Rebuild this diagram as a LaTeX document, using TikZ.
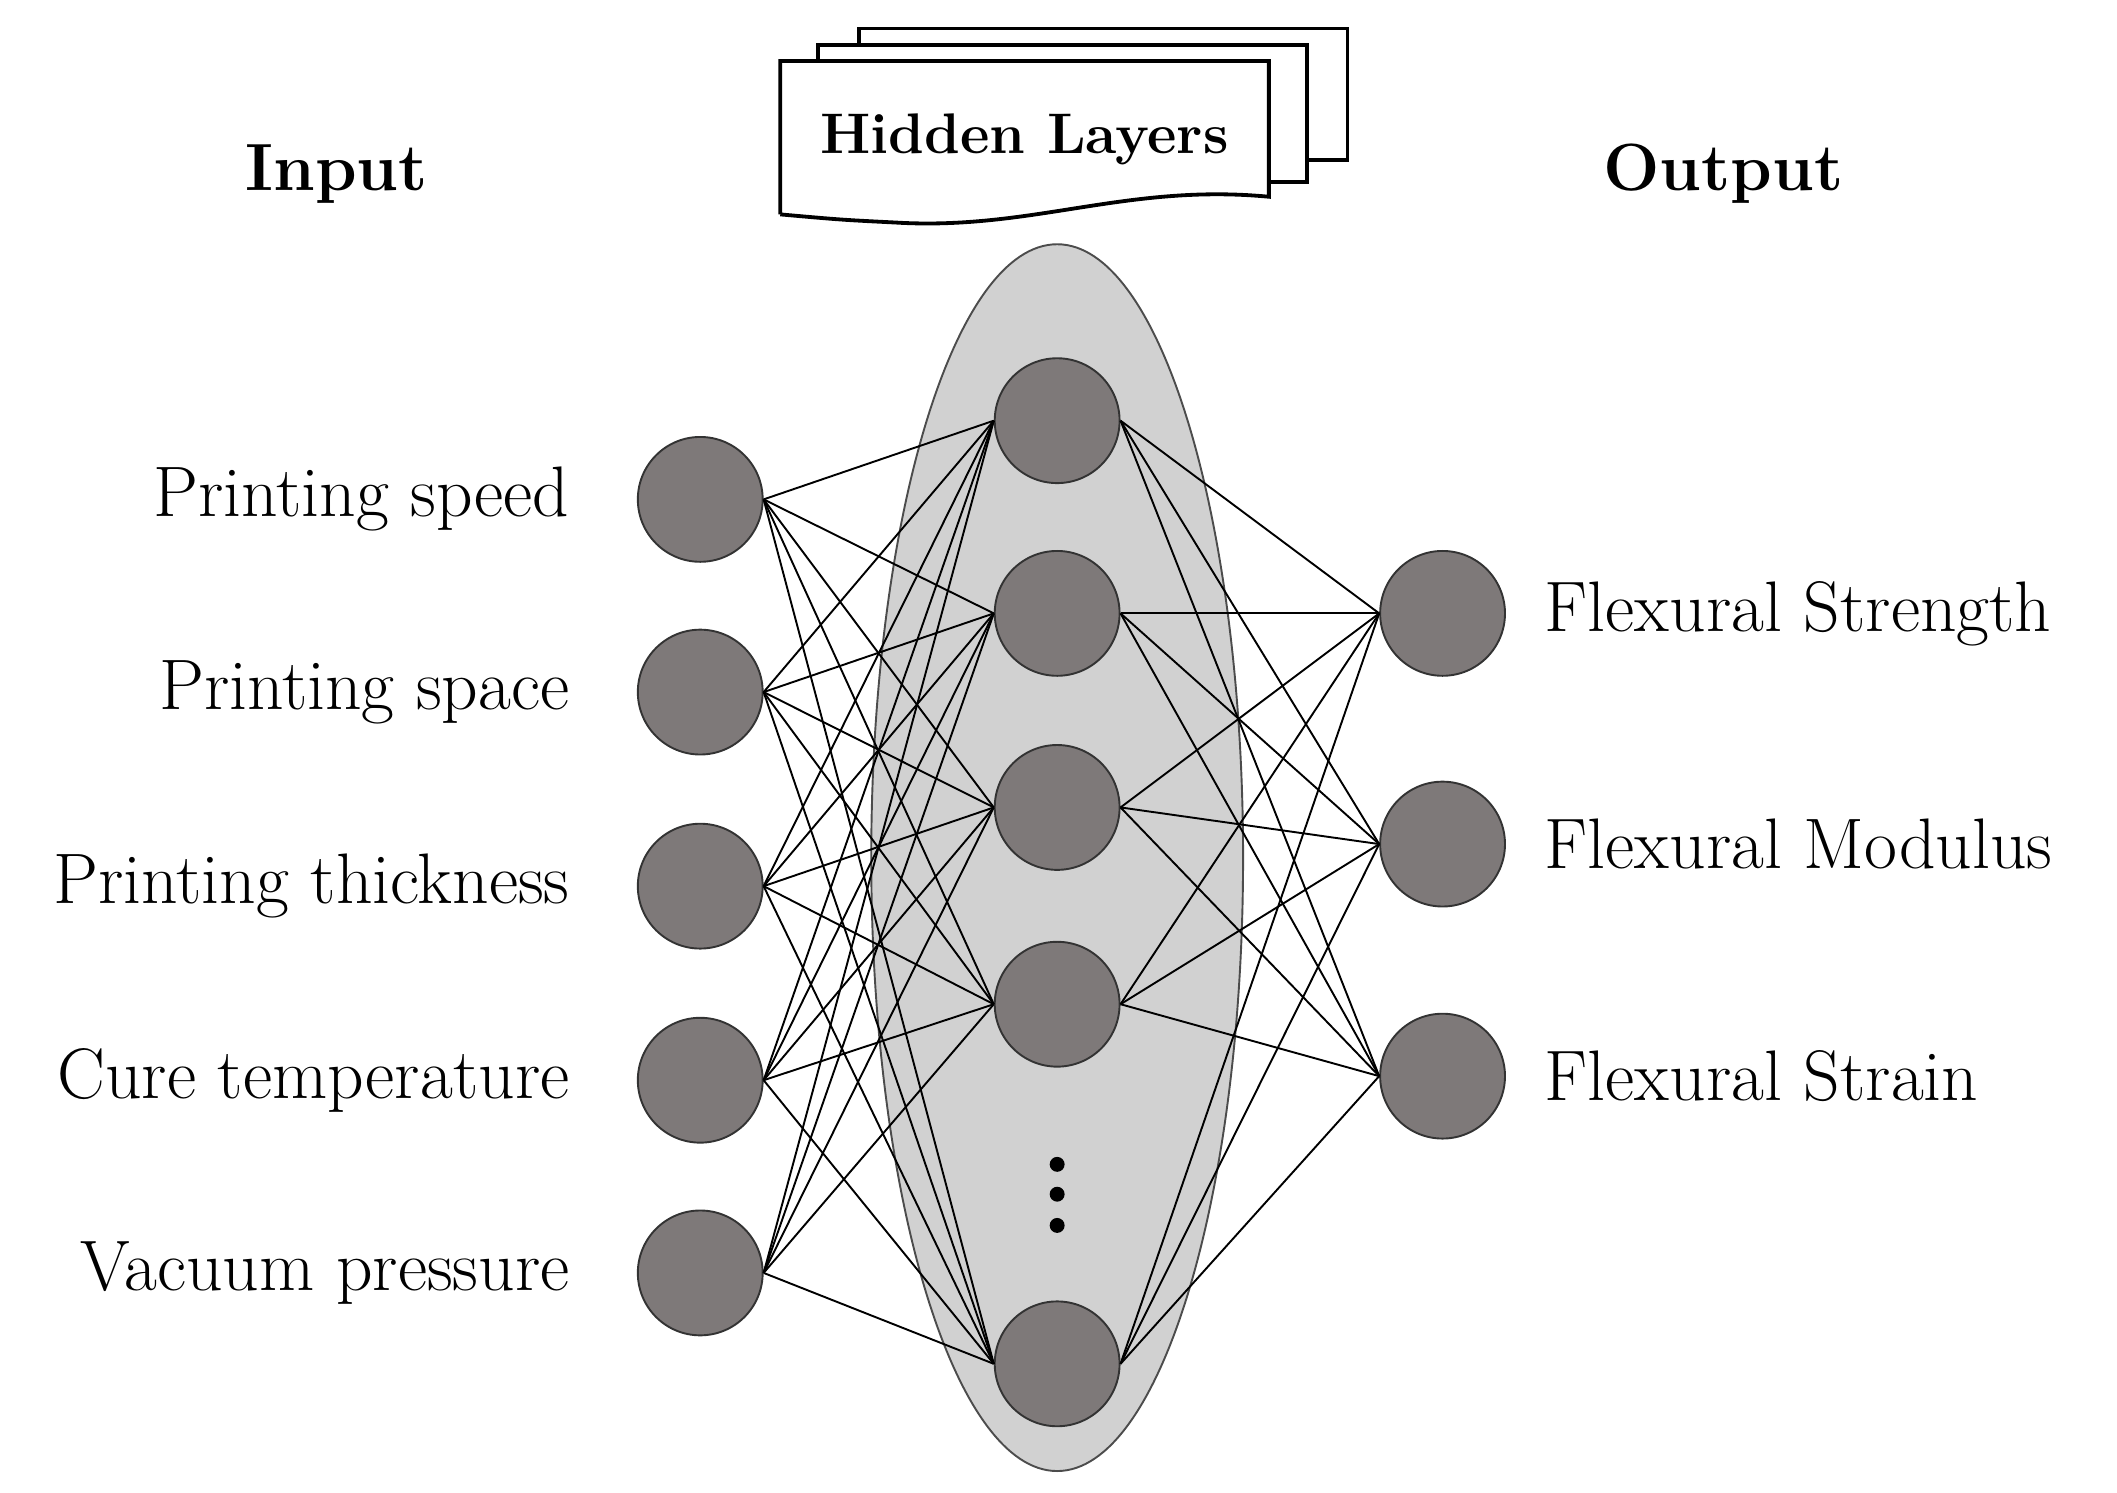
\documentclass[tikz,border=0pt]{standalone}
\usetikzlibrary{positioning,shapes.geometric}
\tikzset{neuron/.style={circle,draw=black!80,fill=black!58!red!5!gray,minimum size=0.92cm,inner sep=0pt},
  lbl/.style={font=\fontsize{15}{18}\selectfont},
  head/.style={font=\bfseries\fontsize{14}{17}\selectfont},
  page/.style={draw,fill=white,line width=0.8pt}}
\begin{document}
\begin{tikzpicture}
\useasboundingbox (0,0) rectangle (15.6,11);
% hidden layer region
\node[ellipse,draw=black!70,fill=black!18,minimum width=2.74cm,minimum height=9.04cm] (cloud) at (7.79,4.68) {};
% stacked pages
\draw[page] (6.33,9.92) -- (6.33,10.79) -- (9.93,10.79) -- (9.93,9.82) -- (9.6,9.82);
\draw[page] (6.03,9.7) -- (6.03,10.67) -- (9.63,10.67) -- (9.63,9.66) -- (9.3,9.66);
\draw[page] (5.75,9.42) -- (5.75,10.55) -- (9.35,10.55) -- (9.35,9.55)
  .. controls (8.3,9.65) and (7.6,9.3) .. (6.6,9.36) .. controls (6.2,9.38) .. (5.75,9.42);
\node[font=\bfseries\fontsize{12}{14}\selectfont] (hl) at (7.55,9.97) {Hidden Layers};
\node[head] (in) at (2.48,9.72) {Input};
\node[head] (out) at (12.7,9.72) {Output};
% inputs
\foreach \i/\y/\t in {1/7.32/Printing speed,2/5.90/Printing space,3/4.47/Printing thickness,4/3.04/Cure temperature,5/1.62/Vacuum pressure}{
  \node[neuron] (i\i) at (5.16,\y) {};
  \node[lbl,anchor=east] (li\i) at (4.32,\y) {\t};
}
% hidden
\foreach \j/\y in {1/7.90,2/6.48,3/5.05,4/3.60,5/0.95}
  \node[neuron] (h\j) at (7.79,\y) {};
\foreach \k/\y in {1/2.42,2/2.20,3/1.97}
  \node[circle,fill=black,inner sep=0pt,minimum size=0.11cm] (d\k) at (7.79,\y) {};
% outputs
\foreach \k/\y/\t in {1/6.48/Flexural Strength,2/4.78/Flexural Modulus,3/3.07/Flexural Strain}{
  \node[neuron] (o\k) at (10.63,\y) {};
  \node[lbl,anchor=west] (lo\k) at (11.26,\y) {\t};
}
\foreach \i in {1,...,5}
  \foreach \j in {1,...,5}
    \draw[line width=0.4pt] (i\i.east) -- (h\j.west);
\foreach \j in {1,...,5}
  \foreach \k in {1,2,3}
    \draw[line width=0.4pt] (h\j.east) -- (o\k.west);
\end{tikzpicture}
\end{document}
